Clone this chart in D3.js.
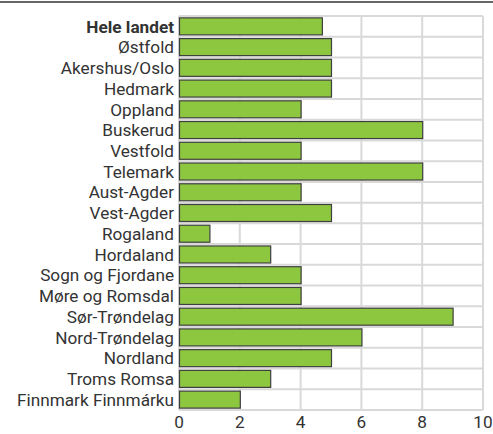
<!DOCTYPE html>
<html>
<head>
<meta charset="utf-8">
<script src="https://cdn.jsdelivr.net/npm/d3@7"></script>
<style>
  body { margin: 0; background: #fff; }
  svg text { font-family: Roboto, "Open Sans", sans-serif; fill: #333; }
</style>
</head>
<body>
<div id="graph1"></div>
<script>
// data
var regions = ["Hele landet", "Østfold", "Akershus/Oslo", "Hedmark", "Oppland", "Buskerud",
    "Vestfold", "Telemark", "Aust-Agder", "Vest-Agder", "Rogaland", "Hordaland",
    "Sogn og Fjordane", "Møre og Romsdal", "Sør-Trøndelag", "Nord-Trøndelag",
    "Nordland", "Troms Romsa", "Finnmark Finnmárku"];
var values = [4.7, 5, 5, 5, 4, 8, 4, 8, 4, 5, 1, 3, 4, 4, 9, 6, 5, 3, 2];
var xTicks = [0, 2, 4, 6, 8, 10];

var totalW = 493, totalH = 434;
var margin = {top: 16, right: 10, bottom: 24, left: 179},
    width = totalW - margin.left - margin.right,
    height = totalH - margin.top - margin.bottom;

var svg = d3.select("#graph1").append("svg")
    .attr("width", totalW)
    .attr("height", totalH);

// top rule
svg.append("line")
    .attr("x1", 0).attr("x2", totalW)
    .attr("y1", 2).attr("y2", 2)
    .attr("stroke", "#666")
    .attr("stroke-width", 2);

var g = svg.append("g")
    .attr("transform", "translate(" + margin.left + "," + margin.top + ")");

var x = d3.scaleLinear().domain([0, 10]).range([0, width]);
var y = d3.scaleBand().domain(regions).range([0, height]).paddingInner(0.18).paddingOuter(0.09);

// grid: vertical lines
g.selectAll(".vgrid")
    .data(xTicks)
    .enter().append("line")
    .attr("x1", function (d) { return x(d); })
    .attr("x2", function (d) { return x(d); })
    .attr("y1", 0).attr("y2", height)
    .attr("stroke", "#d9d9d9")
    .attr("stroke-width", 2);

// grid: horizontal lines between rows
var step = y.step();
var hLines = d3.range(regions.length + 1).map(function (i) { return i * step; });
g.selectAll(".hgrid")
    .data(hLines)
    .enter().append("line")
    .attr("x1", 0).attr("x2", width)
    .attr("y1", function (d) { return d; })
    .attr("y2", function (d) { return d; })
    .attr("stroke", "#d9d9d9")
    .attr("stroke-width", 2);

// bars
g.selectAll(".bar")
    .data(values)
    .enter().append("rect")
    .attr("x", x(0) + 0.5)
    .attr("y", function (d, i) { return y(regions[i]); })
    .attr("width", function (d) { return x(d) - x(0); })
    .attr("height", y.bandwidth())
    .attr("fill", "#8dc63f")
    .attr("stroke", "#3f3f3f")
    .attr("stroke-width", 1.2);

// category labels
g.selectAll(".cat")
    .data(regions)
    .enter().append("text")
    .attr("x", -5)
    .attr("y", function (d) { return y(d) + y.bandwidth() / 2; })
    .attr("dy", "0.36em")
    .attr("text-anchor", "end")
    .style("font-size", "17.2px")
    .style("font-weight", function (d, i) { return i === 0 ? "bold" : "normal"; })
    .text(function (d) { return d; });

// x axis labels
g.selectAll(".xt")
    .data(xTicks)
    .enter().append("text")
    .attr("x", function (d) { return x(d); })
    .attr("y", height + 18)
    .attr("text-anchor", "middle")
    .style("font-size", "17.2px")
    .text(function (d) { return d; });
</script>
</body>
</html>
